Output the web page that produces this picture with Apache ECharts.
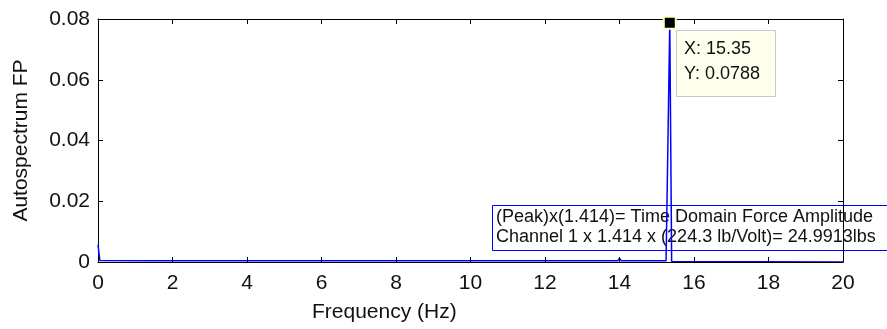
<!DOCTYPE html>
<html>
<head>
<meta charset="utf-8">
<script src="https://cdn.jsdelivr.net/npm/echarts@6/dist/echarts.min.js"></script>
<style>
html,body{margin:0;padding:0;background:#fff;}
#c{width:887px;height:329px;}
</style>
</head>
<body>
<div id="c"></div>
<script>
// Frequency (Hz) and autospectrum values
var freqHz = [0, 0.05, 0.1, 1.35, 1.4, 1.45, 13.95, 14.0, 14.05, 15.25, 15.3, 15.35, 15.4, 15.45, 20];
var autospectrum = [0.0056, 0.0005, 0.0004, 0.0004, 0.0010, 0.0004, 0.0004, 0.0012, 0.0004, 0.0004, 0.0393, 0.0788, 0.0002, 0, 0];
var peakPoint = [15.35, 0.0788];
var xTicks = [0, 2, 4, 6, 8, 10, 12, 14, 16, 18, 20];
var yTicks = [0, 0.02, 0.04, 0.06, 0.08];
var tipLines = ['X: 15.35', 'Y: 0.0788'];
var noteLines = ['(Peak)x(1.414)= Time Domain Force Amplitude', 'Channel 1 x 1.414 x (224.3 lb/Volt)= 24.9913lbs'];

var FONT = '"Liberation Sans", Arial, sans-serif';
var seriesData = freqHz.map(function (f, i) { return [f, autospectrum[i]]; });

var chart = echarts.init(document.getElementById('c'));
var axisCommon = {
  axisLine: { show: true, onZero: false, lineStyle: { color: '#000', width: 1 } },
  axisTick: { show: true, inside: true, length: 5, lineStyle: { color: '#000' } },
  splitLine: { show: false }
};
chart.setOption({
  animation: false,
  backgroundColor: '#fff',
  grid: { left: 98, right: 44, top: 19, bottom: 67 },
  xAxis: [
    Object.assign({}, axisCommon, {
      type: 'value', position: 'bottom', min: xTicks[0], max: xTicks[xTicks.length - 1], interval: 2, z: 3,
      axisLabel: { color: '#111', fontFamily: FONT, fontSize: 21, margin: 11 }
    }),
    Object.assign({}, axisCommon, {
      type: 'value', position: 'top', min: xTicks[0], max: xTicks[xTicks.length - 1], interval: 2, z: 3,
      axisLabel: { show: false }
    })
  ],
  yAxis: [
    Object.assign({}, axisCommon, {
      type: 'value', position: 'left', min: yTicks[0], max: yTicks[yTicks.length - 1], interval: 0.02, z: 0,
      axisLabel: {
        color: '#111', fontFamily: FONT, fontSize: 21, margin: 8,
        formatter: function (v) { return v === 0 ? '0' : v.toFixed(2); }
      },
      name: 'Autospectrum FP', nameLocation: 'middle', nameGap: 66, nameRotate: 90,
      nameTextStyle: { color: '#111', fontFamily: FONT, fontSize: 21 }
    }),
    Object.assign({}, axisCommon, {
      type: 'value', position: 'right', min: yTicks[0], max: yTicks[yTicks.length - 1], interval: 0.02, z: 3,
      axisLabel: { show: false }
    })
  ],
  series: [{
    type: 'line',
    data: seriesData,
    showSymbol: false,
    symbol: 'none',
    lineStyle: { color: '#0000ff', width: 1.5 },
    z: 2,
    markPoint: {
      symbol: 'rect',
      symbolSize: 12,
      itemStyle: { color: '#000', borderColor: '#ffffcc', borderWidth: 2 },
      label: { show: false },
      data: [{ coord: peakPoint }]
    }
  }],
  graphic: [
    {
      type: 'text', left: 312, top: 302, z: 10,
      style: { text: 'Frequency (Hz)', fill: '#111', font: '21px ' + FONT }
    },
    {
      type: 'group', left: 676, top: 30, z: 20,
      children: [
        { type: 'rect', shape: { x: 0.5, y: 0.5, width: 99, height: 66 }, style: { fill: '#ffffee', stroke: '#c8c8c8', lineWidth: 1 } },
        { type: 'text', x: 8, y: 10, style: { text: tipLines[0], fill: '#111', font: '18px ' + FONT } },
        { type: 'text', x: 8, y: 35, style: { text: tipLines[1], fill: '#111', font: '18px ' + FONT } }
      ]
    },
    {
      type: 'group', left: 492, top: 205, z: 20,
      children: [
        { type: 'rect', shape: { x: 0.5, y: 0.5, width: 400, height: 45 }, style: { fill: '#fff', stroke: '#0000ff', lineWidth: 1 } },
        { type: 'text', x: 4, y: 3, style: { text: noteLines[0], fill: '#111', font: '18px ' + FONT } },
        { type: 'text', x: 4, y: 23, style: { text: noteLines[1], fill: '#111', font: '18px ' + FONT } }
      ]
    }
  ]
});
</script>
</body>
</html>
